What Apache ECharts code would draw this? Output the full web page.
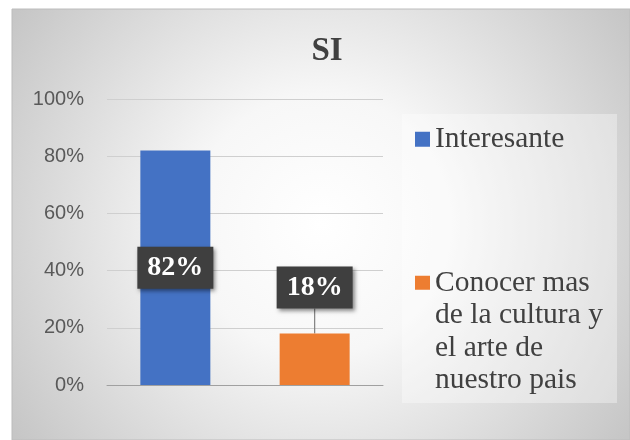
<!DOCTYPE html>
<html>
<head>
<meta charset="utf-8">
<script src="https://cdn.jsdelivr.net/npm/echarts@6/dist/echarts.min.js"></script>
<style>html,body{margin:0;padding:0;background:#fff;}#c{width:630px;height:440px;}</style>
</head>
<body>
<div id="c"></div>
<script>
const categories = [''];
const seriesNames = ['Interesante', 'Conocer mas de la cultura y el arte de nuestro pais'];
const legendLines = ['Conocer mas', 'de la cultura y', 'el arte de', 'nuestro pais'];
const interesanteValues = [0.82];
const conocerValues = [0.18];
const yTicks = [0, 0.2, 0.4, 0.6, 0.8, 1.0];

const chart = echarts.init(document.getElementById('c'), null, {renderer: 'canvas'});
const pct = v => Math.round(v * 100) + '%';
const labelBox = {
  show: true,
  formatter: p => pct(p.value),
  fontFamily: 'Liberation Serif',
  fontWeight: 'bold',
  fontSize: 28,
  lineHeight: 29,
  color: '#ffffff',
  backgroundColor: '#3f3f3f',
  padding: [7, 10, 6, 10],
  shadowBlur: 4,
  shadowColor: 'rgba(0,0,0,0.45)',
  shadowOffsetX: 2,
  shadowOffsetY: 2
};
const legendText = {fontFamily: 'Liberation Serif', fontSize: 29.5, lineHeight: 32.5, color: '#404040'};
chart.setOption({
  animation: false,
  graphic: [
    {type: 'rect', z: -10, shape: {x: 12, y: 9, width: 618, height: 431},
     style: {fill: {type: 'radial', x: 0.5, y: 0.5, r: 0.86,
       colorStops: [{offset: 0, color: '#ffffff'}, {offset: 0.35, color: '#f7f7f7'}, {offset: 1, color: '#c6c6c6'}]},
       stroke: '#bcbcbc', lineWidth: 1}},
    {type: 'rect', z: -9, shape: {x: 402, y: 114, width: 215, height: 289},
     style: {fill: 'rgba(255,255,255,0.35)'}}
  ],
  title: {
    text: 'SI', left: 322, top: 30, textAlign: 'center',
    textStyle: {fontFamily: 'Liberation Serif', fontWeight: 'bold', fontSize: 33, color: '#404040'}
  },
  grid: {left: 107, right: 247, top: 99, bottom: 55, containLabel: false},
  xAxis: {
    type: 'category', data: categories,
    axisLine: {lineStyle: {color: '#a0a0a0', width: 1}},
    axisTick: {show: false}, axisLabel: {show: false}
  },
  yAxis: {
    type: 'value', min: yTicks[0], max: yTicks[yTicks.length - 1], interval: 0.2,
    axisLine: {show: false}, axisTick: {show: false},
    axisLabel: {formatter: v => pct(v), fontFamily: 'Liberation Sans', fontSize: 20, color: '#595959', margin: 23},
    splitLine: {lineStyle: {color: '#cfcfcf', width: 1}}
  },
  legend: [
    {orient: 'vertical', left: 415, top: 123, padding: 0, itemWidth: 15, itemHeight: 15, icon: 'rect',
     data: [seriesNames[0]], textStyle: legendText},
    {orient: 'vertical', left: 415, top: 169, padding: 0, itemWidth: 15, itemHeight: 14, icon: 'rect',
     data: [seriesNames[1]],
     formatter: () => '\n\n\n' + legendLines.join('\n'),
     textStyle: legendText}
  ],
  series: [
    {name: seriesNames[0], type: 'bar', data: interesanteValues, barWidth: 70, barGap: '99%',
     itemStyle: {color: '#4472C4'},
     label: Object.assign({}, labelBox, {position: 'inside'})},
    {name: seriesNames[1], type: 'bar', data: conocerValues, barWidth: 70,
     itemStyle: {color: '#ED7D31'},
     label: Object.assign({}, labelBox, {position: 'top', distance: 5}),
     labelLayout: {dy: -20},
     labelLine: {show: true, lineStyle: {color: '#808080', width: 1.2}}}
  ]
});
</script>
</body>
</html>
